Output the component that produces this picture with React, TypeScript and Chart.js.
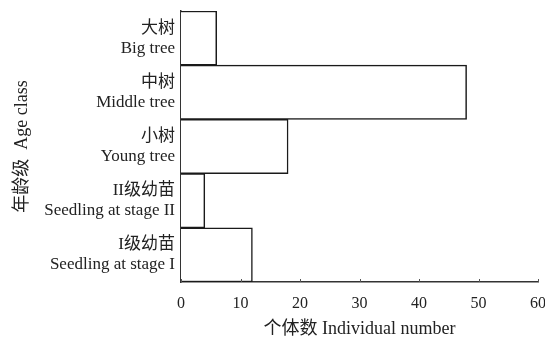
import React, { useEffect, useRef } from "react";
import { Chart, registerables } from "chart.js";

Chart.register(...registerables);

const categories: string[][] = [
  ["大树", "Big tree"],
  ["中树", "Middle tree"],
  ["小树", "Young tree"],
  ["II级幼苗", "Seedling at stage II"],
  ["I级幼苗", "Seedling at stage I"],
];
const counts: number[] = [6, 48, 18, 4, 12];
const xMin = 0;
const xMax = 60;
const xStep = 10;
const xTitle = "个体数 Individual number";
const yTitle = "年龄级  Age class";

const FONT = "'Liberation Serif', 'Times New Roman', 'Noto Sans CJK SC', serif";

const innerTicks = {
  id: "innerTicks",
  afterDraw(chart: any) {
    const s = chart.scales.x;
    const ctx = chart.ctx;
    ctx.save();
    ctx.strokeStyle = "#555";
    ctx.lineWidth = 1;
    s.ticks.forEach((_t: any, i: number) => {
      const px = Math.round(s.getPixelForTick(i)) + 0.5;
      ctx.beginPath();
      ctx.moveTo(px, s.top);
      ctx.lineTo(px, s.top - 3);
      ctx.stroke();
    });
    ctx.restore();
  },
};

export default function App() {
  const ref = useRef<HTMLCanvasElement>(null);
  useEffect(() => {
    document.body.style.margin = "0";
    const chart = new Chart(ref.current!, {
      type: "bar",
      data: {
        labels: categories,
        datasets: [
          {
            data: counts,
            backgroundColor: "#ffffff",
            borderColor: "#1a1a1a",
            borderWidth: 1.5,
            borderSkipped: "start",
            categoryPercentage: 1,
            barPercentage: 1,
          },
        ],
      },
      options: {
        indexAxis: "y",
        animation: false,
        responsive: false,
        devicePixelRatio: 1,
        layout: { padding: { top: 11, right: 7, left: 0, bottom: 0 } },
        plugins: { legend: { display: false }, tooltip: { enabled: false } },
        scales: {
          x: {
            min: xMin,
            max: xMax,
            ticks: {
              stepSize: xStep,
              color: "#222",
              font: { family: FONT, size: 16 },
              padding: 12,
              maxRotation: 0,
            },
            grid: { display: false, drawTicks: false },
            border: { display: true, color: "#333", width: 1.5 },
            title: {
              display: true,
              text: xTitle,
              color: "#222",
              font: { family: FONT, size: 18 },
              padding: { top: 6, bottom: 0 },
            },
            afterFit(scale: any) {
              scale.height = 58;
              scale.paddingLeft = 0;
              scale.paddingRight = 0;
            },
          },
          y: {
            ticks: {
              color: "#222",
              font: { family: FONT, size: 17, lineHeight: 1.18 },
              padding: 6,
              crossAlign: "near",
            },
            grid: { display: false, drawTicks: false },
            border: { display: true, color: "#333", width: 1.5 },
            title: {
              display: true,
              text: yTitle,
              color: "#222",
              font: { family: FONT, size: 18 },
              padding: { top: 11, bottom: 0 },
            },
            afterFit(scale: any) {
              scale.width = 181;
              scale.paddingTop = 0;
              scale.paddingBottom = 0;
            },
          },
        },
      },
      plugins: [innerTicks],
    });
    return () => chart.destroy();
  }, []);
  return <canvas ref={ref} width={545} height={340} style={{ display: "block" }} />;
}
